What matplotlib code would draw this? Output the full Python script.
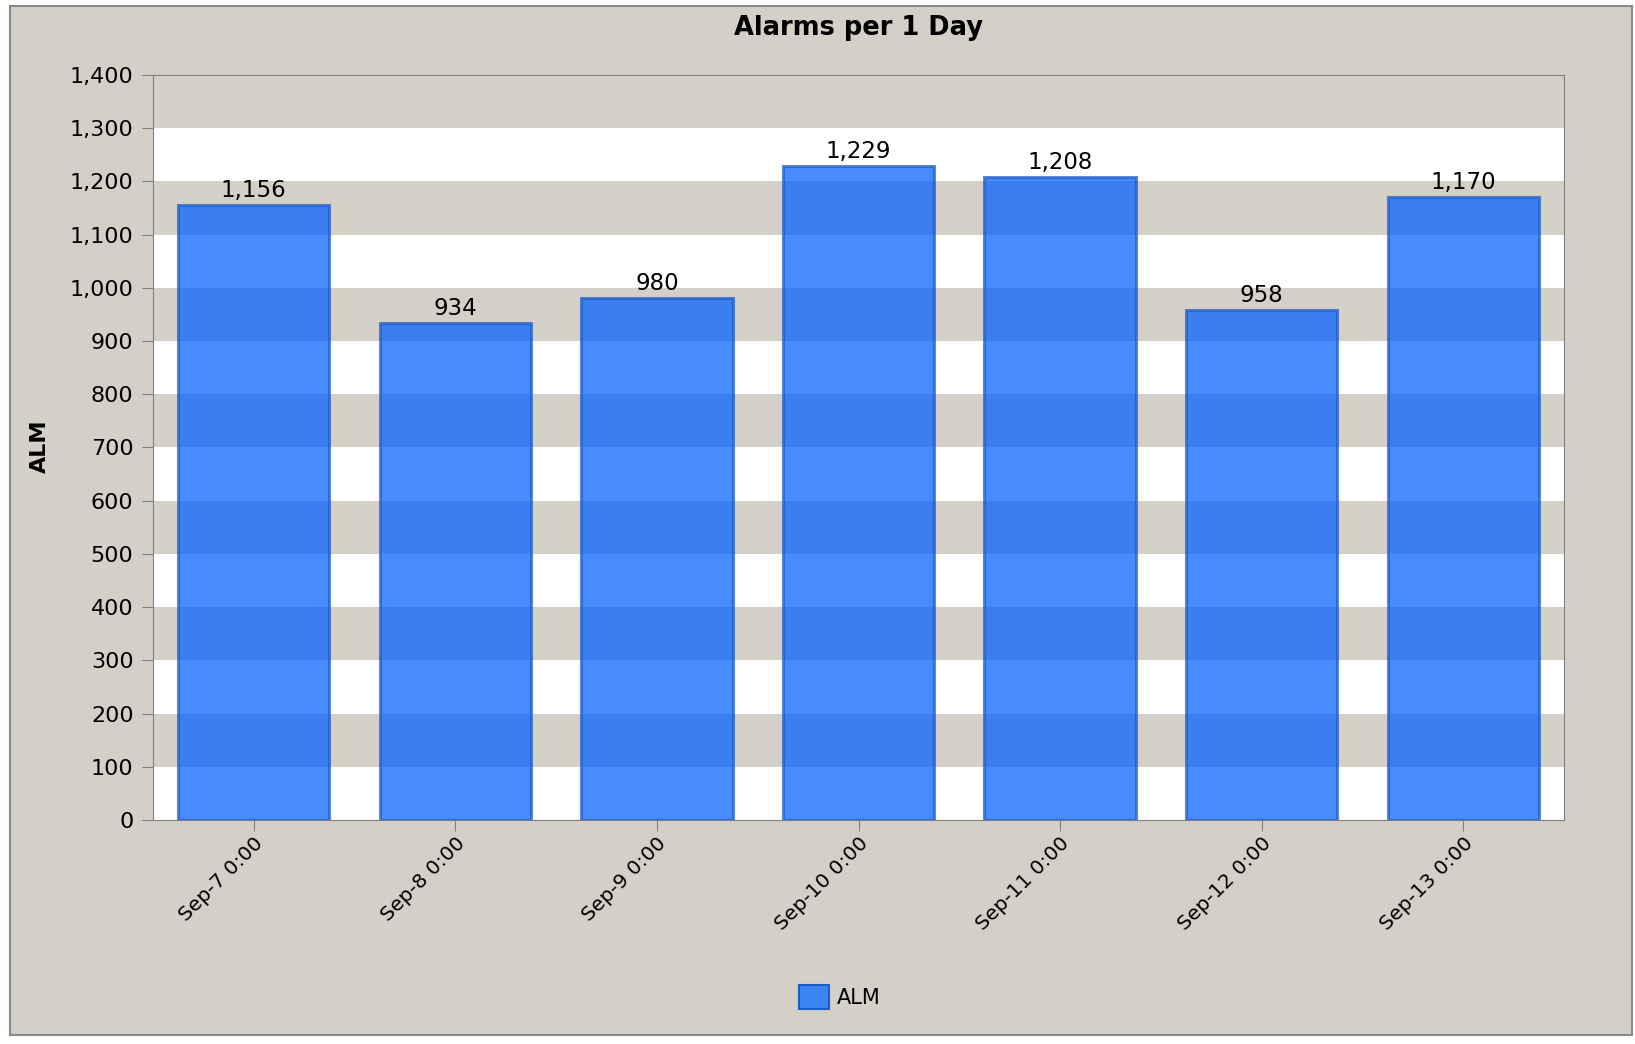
import matplotlib.pyplot as plt
from matplotlib.patches import Rectangle, Patch

# 일별 알람 수
days = ['Sep-7 0:00', 'Sep-8 0:00', 'Sep-9 0:00', 'Sep-10 0:00',
        'Sep-11 0:00', 'Sep-12 0:00', 'Sep-13 0:00']
alarms = [1156, 934, 980, 1229, 1208, 958, 1170]
yticks = list(range(0, 1401, 100))

plt.rcParams['font.family'] = ['DejaVu Sans']
bg = '#D4D0C8'
W, H = 1635, 1044

fig = plt.figure(figsize=(W / 100, H / 100), dpi=100, facecolor='white')
# 바깥 테두리 (회색 패널)
fig.patches.append(Rectangle((10 / W, 1 - 1035 / H), 1622 / W, 1029 / H,
                             transform=fig.transFigure, facecolor=bg,
                             edgecolor='#8a8a8a', linewidth=1.5, zorder=-5))

ax = fig.add_axes([153 / W, 1 - 820 / H, (1564 - 153) / W, (820 - 75) / H])
ax.set_facecolor('white')
for lo in range(100, 1400, 200):    # 회색/흰색 교대 띠
    ax.axhspan(lo, lo + 100, color=bg, lw=0, zorder=0)

x = range(len(days))
ax.bar(x, alarms, width=0.75, color='#005FFF', alpha=0.72,
       edgecolor='#1A5CC8', linewidth=2.2, zorder=2)
for xi, v in zip(x, alarms):
    ax.text(xi, v + 6, f'{v:,}', ha='center', va='bottom', fontsize=16.5, zorder=3)

ax.set_xlim(-0.5, len(days) - 0.5)
ax.set_ylim(0, 1400)
ax.set_yticks(yticks)
ax.set_yticklabels([f'{t:,}' for t in yticks], fontsize=16)
ax.set_xticks(list(x))
ax.set_xticklabels(days, rotation=45, ha='right', va='top',
                   rotation_mode='anchor', fontsize=14.5)
ax.tick_params(axis='both', length=8, color='#808080')
ax.tick_params(axis='x', pad=2)
ax.tick_params(axis='y', pad=6)
for s in ax.spines.values():
    s.set_color('#808080')

fig.text(40 / W, 1 - 446 / H, 'ALM', rotation=90, ha='center', va='center',
         fontsize=16, fontweight='bold')
fig.text(858 / W, 1 - 28 / H, 'Alarms per 1 Day', ha='center', va='center',
         fontsize=18.5, fontweight='bold')

fig.legend(handles=[Patch(facecolor='#3A86F5', edgecolor='#1A5CC8', linewidth=1.5, label='ALM')],
           loc='center', bbox_to_anchor=(840 / W, 1 - 997 / H), frameon=False,
           fontsize=15, handlelength=1.4, handleheight=1.4, handletextpad=0.4)

fig.savefig('out.png', dpi=100, facecolor=fig.get_facecolor())
